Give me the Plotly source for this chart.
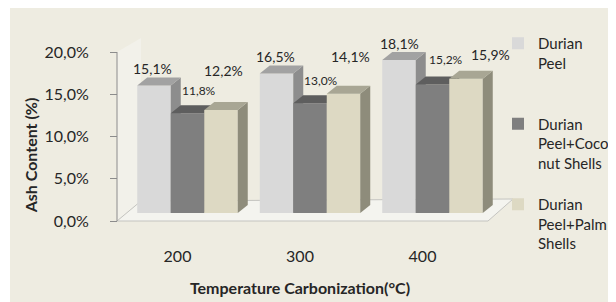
import plotly.graph_objects as go

# ---------------- data ----------------
CATEGORIES = ["200", "300", "400"]
SERIES = ["Durian Peel", "Durian Peel+Coconut Shells", "Durian Peel+Palm Shells"]
LEGEND_LABELS = ["Durian<br>Peel<br>&nbsp;", "Durian<br>Peel+Coco<br>nut Shells", "Durian<br>Peel+Palm<br>Shells"]
DURIAN_PEEL = [15.1, 16.5, 18.1]
DURIAN_PEEL_COCONUT = [11.8, 13.0, 15.2]
DURIAN_PEEL_PALM = [12.2, 14.1, 15.9]
Y_TICKS = [0, 5, 10, 15, 20]
Y_TICK_LABELS = ["0,0%", "5,0%", "10,0%", "15,0%", "20,0%"]
X_TITLE = "Temperature Carbonization(°C)"
Y_TITLE = "Ash Content (%)"

SERIES_VALUES = [DURIAN_PEEL, DURIAN_PEEL_COCONUT, DURIAN_PEEL_PALM]

# ---------------- styles ----------------
FONT = "Lato"
TEXT = "#262626"
BG = "#EEECE1"
FRONT = ["#D9D9D9", "#7F7F7F", "#DDD9C3"]
TOP = ["#A2A2A2", "#5E5E5E", "#A8A694"]
SIDE = ["#8D8D8D", "#505050", "#8E8C7B"]
LABEL_SIZE = [14, 12, 14]
# per label (xshift, yshift) in px, series by series
LABEL_SHIFT = [
    [(-1.5, 17), (-1, 17), (0.5, 17)],
    [(11, 23), (10.5, 23), (13, 25)],
    [(2.5, 39), (7, 37), (24.5, 24)],
]

# ---------------- geometry (pixels of the 616x302 window) ----------------
PAGE_MARGIN = 8            # default <body> margin of the html page
WIN_W, WIN_H = 616, 302
W, H = WIN_W - PAGE_MARGIN, WIN_H - PAGE_MARGIN
PL, PR, PT, PB = 70, 530, PAGE_MARGIN, WIN_H
AXIS_PX = 117              # y axis / front-left corner of the floor
BASE_PX = 221              # front edge of the floor (0 %)
PX_PER_PCT = 8.45
CAT_STEP = 122.5
CAT0_PX = 177.5
DEPTH_PX = (10, 8)
BAR_W = 33.5 / CAT_STEP
DXU = DEPTH_PX[0] / CAT_STEP
DYU = DEPTH_PX[1] / PX_PER_PCT


def fx(px):
    return (px - CAT0_PX) / CAT_STEP


def fy(py):
    return (BASE_PX - py) / PX_PER_PCT


def paper_x(px):
    return (px - PL) / (PR - PL)


def paper_y(py):
    return (PB - py) / (PB - PT)


XR = [fx(PL), fx(PR)]
YR = [fy(PB), fy(PT)]
XR_BAR = [XR[0] - DXU, XR[1] - DXU]
YR_BAR = [YR[0] - DYU, YR[1] - DYU]
POS = list(range(len(CATEGORIES)))

fig = go.Figure()

# side wall and floor (front plane axes)
wall_x = [fx(AXIS_PX), fx(141), fx(141), fx(AXIS_PX), fx(AXIS_PX)]
wall_y = [0, fy(201), fy(38), Y_TICKS[-1], 0]
fig.add_trace(go.Scatter(x=wall_x, y=wall_y, mode="lines", fill="toself",
                         fillcolor="#F2F1EA", line=dict(width=0),
                         hoverinfo="skip", showlegend=False))
floor_x = [fx(AXIS_PX), fx(488), fx(513), fx(141), fx(AXIS_PX)]
floor_y = [0, 0, fy(199), fy(201), 0]
fig.add_trace(go.Scatter(x=floor_x, y=floor_y, mode="lines", fill="toself",
                         fillcolor="#F4F4EF", line=dict(width=1, color="#C4C4C0"),
                         hoverinfo="skip", showlegend=False))

annotations = []
for k, vals in enumerate(SERIES_VALUES):
    xa, ya = f"x{k + 2}", f"y{k + 2}"
    fig.add_trace(go.Bar(
        x=POS, y=vals, width=BAR_W, offset=(k - 1.5) * BAR_W,
        marker=dict(color=FRONT[k], line=dict(width=0)),
        name=LEGEND_LABELS[k], legendgroup=str(k), xaxis=xa, yaxis=ya,
        hovertext=[f"{SERIES[k]}: {v}%" for v in vals], hoverinfo="text",
    ))
    sx, sy, tx, ty = [], [], [], []
    for i, v in zip(POS, vals):
        xl = i + (k - 1.5) * BAR_W
        xr = xl + BAR_W
        sx += [xr, xr, xr + DXU, xr + DXU, xr, None]
        sy += [0, v, v + DYU, DYU, 0, None]
        tx += [xl, xr, xr + DXU, xl + DXU, xl, None]
        ty += [v, v, v + DYU, v + DYU, v, None]
    fig.add_trace(go.Scatter(x=sx, y=sy, mode="lines", fill="toself", fillcolor=SIDE[k],
                             line=dict(width=0), hoverinfo="skip", showlegend=False,
                             xaxis=xa, yaxis=ya))
    fig.add_trace(go.Scatter(x=tx, y=ty, mode="lines", fill="toself", fillcolor=TOP[k],
                             line=dict(width=0), hoverinfo="skip", showlegend=False,
                             xaxis=xa, yaxis=ya))
    for i, v in zip(POS, vals):
        dx, dy = LABEL_SHIFT[k][i]
        annotations.append(dict(
            x=i + (k - 1) * BAR_W, y=v, xref=xa, yref=ya,
            text=f"{v:.1f}%".replace(".", ","), showarrow=False,
            xshift=dx, yshift=dy, xanchor="center", yanchor="middle",
            font=dict(family=FONT, size=LABEL_SIZE[k], color=TEXT),
        ))

layout_axes = {}
for k in range(3):
    layout_axes[f"xaxis{k + 2}"] = dict(overlaying="x", anchor=f"y{k + 2}", range=XR_BAR,
                                        visible=False, fixedrange=True)
    layout_axes[f"yaxis{k + 2}"] = dict(overlaying="y", anchor=f"x{k + 2}", range=YR_BAR,
                                        visible=False, fixedrange=True)

fig.update_layout(
    width=W, height=H,
    margin=dict(l=PL - PAGE_MARGIN, r=WIN_W - PR, t=PT - PAGE_MARGIN, b=WIN_H - PB, pad=0),
    paper_bgcolor="white", plot_bgcolor="rgba(0,0,0,0)",
    font=dict(family=FONT, color=TEXT),
    barmode="overlay",
    xaxis=dict(range=XR, tickvals=POS, ticktext=CATEGORIES, ticks="", showgrid=False,
               anchor="free", position=paper_y(228),
               zeroline=False, showline=False, ticklabelstandoff=17,
               tickfont=dict(size=16, color=TEXT),
               title=dict(text=X_TITLE, font=dict(size=16, weight="bold", color=TEXT), standoff=18),
               fixedrange=True),
    yaxis=dict(range=YR, anchor="free", position=paper_x(AXIS_PX), tickvals=Y_TICKS,
               ticktext=Y_TICK_LABELS, ticks="outside", ticklen=7, tickcolor="#8C8C8C",
               showgrid=False, zeroline=False, showline=False, ticklabelstandoff=18,
               tickfont=dict(size=16, color=TEXT),
               title=dict(text=Y_TITLE, font=dict(size=16, weight="bold", color=TEXT), standoff=1),
               fixedrange=True),
    **layout_axes,
    legend=dict(x=paper_x(498), y=paper_y(27), xanchor="left", yanchor="top", valign="top",
                tracegroupgap=19, bgcolor="rgba(0,0,0,0)",
                font=dict(family=FONT, size=15, color=TEXT)),
    shapes=[
        dict(type="rect", xref="paper", yref="paper", x0=paper_x(10), x1=paper_x(WIN_W + 20),
             y0=paper_y(WIN_H + 20), y1=paper_y(7), fillcolor=BG, line=dict(width=0), layer="below"),
        dict(type="line", xref="paper", yref="y", x0=paper_x(AXIS_PX), x1=paper_x(AXIS_PX),
             y0=0, y1=Y_TICKS[-1], line=dict(color="#8C8C8C", width=1)),
    ],
    annotations=annotations,
)

fig.write_html("out.html")
